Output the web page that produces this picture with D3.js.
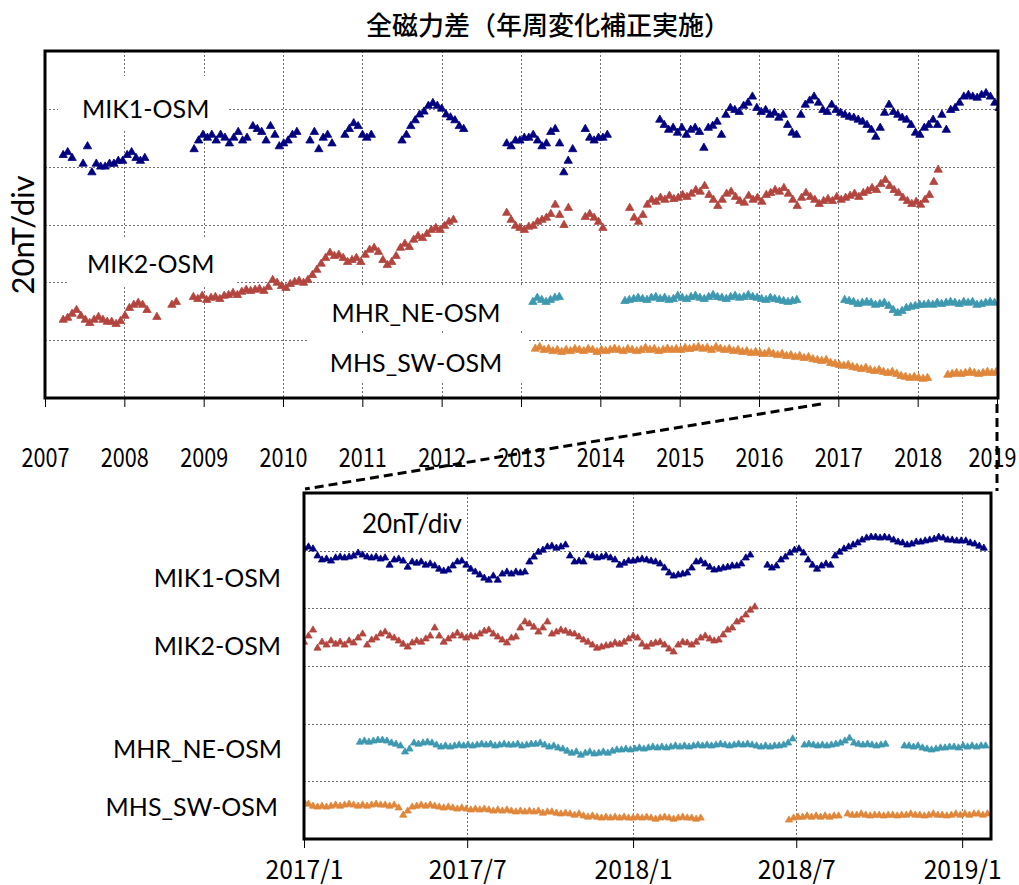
<!DOCTYPE html>
<html>
<head>
<meta charset="utf-8">
<script src="https://cdn.jsdelivr.net/npm/d3@7"></script>
<style>
   body { margin: 0; background: #fff; }
   svg { display: block; }
</style>
</head>
<body>
<svg id="chart" width="1019" height="885"></svg>
<script>
/*jslint browser: true*/
/*global d3*/

// top panel: [start year, values (nT)], one value every 1/18 year
var mik1Top = [
   [2007.23, [84, 85, 83]],
   [2007.48, [81, 87, 78, 81, 80, 80, 81, 81, 82, 82, 84, 85, 83, 82, 83]],
   [2008.88, [86, 89, 91, 90, 91, 89, 91, 90, 88, 90, 92, 89, 90]],
   [2009.62, [94, 93, 92, 89, 94, 91, 87, 88, 89, 91, 92]],
   [2010.34, [89, 92, 86, 90, 91, 88]],
   [2010.78, [91, 93, 95, 94, 91, 90, 91]],
   [2011.50, [89, 91, 94, 96, 98, 99, 101, 102, 101, 100, 98, 97, 96, 94, 93]],
   [2012.82, [88, 87, 89, 89, 90, 90, 91, 89, 87, 88, 92, 93, 88]],
   [2013.54, [78, 82, 86]],
   [2013.81, [93, 90, 89, 90, 90, 91]],
   [2014.75, [96.2, 94.4, 92.7, 93.4, 91.7, 93.4, 91.0, 92.7, 93.4, 92.0, 86.5, 93.4, 94.1, 95.5, 91.0, 97.9,
      100.3, 99.6, 98.9, 101.0, 102.1, 104.2, 100.3, 98.9, 99.6, 97.9, 98.6, 96.9, 97.9, 94.4, 91.7, 91.0,
      97.9, 101.4, 102.8, 104.2, 102.1, 99.6, 98.9, 101.4, 99.6, 98.6, 97.9, 97.2, 96.9, 96.2, 95.5, 94.4,
      92.7, 90.3, 93.4, 98.6, 101.4, 98.9, 97.9, 96.9, 96.2, 94.4, 91.7, 91.0, 93.4, 94.4, 96.2, 94.4,
      97.9, 92.7, 99.6, 100.3, 102.1, 104.2, 104.8, 104.2, 103.8, 104.8, 105.4, 104.2, 102.1, 100.3]]
];

var mik2Top = [
   [2007.23, [27.0, 27.7, 29.1, 30.4, 28.4, 27.0, 25.9, 27.0, 28.0, 27.0, 26.3, 26.3, 25.6, 26.6, 28.4, 31.1,
      32.2, 32.9, 32.2, 30.4]],
   [2008.41, [28.0]],
   [2008.60, [32.2, 33.2]],
   [2008.87, [34.9, 34.2, 35.3, 33.9, 34.6, 34.9, 34.2, 35.3, 35.6, 36.3, 35.6, 36.7, 37.4, 37.0, 37.4, 37.7,
      37.0, 38.4, 40.8, 39.8, 38.7, 38.0, 39.4, 40.1, 40.5, 39.8, 40.8, 42.5, 44.3, 46.4, 48.4, 50.2,
      49.1, 49.5, 48.4, 47.0, 47.7, 48.4, 47.0, 49.5, 51.2, 51.9, 50.5, 47.7, 46.0, 47.0, 49.1, 51.9,
      53.3, 52.2, 54.7, 56.0, 55.3, 56.7, 58.1, 58.8, 58.1, 59.5, 60.9, 61.6]],
   [2012.82, [64.0, 61.6, 59.5, 58.8, 58.1, 59.2, 59.5, 60.9, 61.6, 62.3, 63.6, 66.8, 63.3, 59.8, 65.7]],
   [2013.81, [62.6, 63.6, 62.3, 60.9, 58.8]],
   [2014.37, [65.7, 62.3, 60.9, 63.3, 66.8, 68.5, 67.8, 69.2, 68.5, 69.9, 68.8, 69.2, 70.2, 69.5, 70.6, 71.9,
      71.3, 73.3, 70.2, 68.5, 66.4, 68.5, 70.6, 71.3, 69.5, 68.1, 67.5, 69.9, 68.5, 69.2, 67.8, 70.2,
      70.9, 71.9, 71.3, 72.6, 70.6, 68.5, 66.4, 69.2, 70.9, 69.5, 68.5, 67.1, 68.1, 68.8, 68.1, 69.5,
      68.5, 69.2, 69.9, 70.6, 69.5, 70.9, 71.6, 72.6, 71.9, 74.0, 75.4, 73.3, 71.9, 70.9, 69.2, 68.1,
      67.1, 67.8, 66.8, 68.5, 70.2, 74.7, 78.9]]
];

var mhrTop = [
   [2013.15, [33.2, 34.6, 33.9, 33.2, 33.9, 34.6, 34.9]],
   [2014.31, [33.5, 33.9, 34.2, 34.6, 34.2, 33.9, 34.6, 34.9, 34.2, 34.6, 33.9, 34.2, 35.3, 34.6, 34.2, 34.9,
      35.3, 34.6, 34.2, 34.9, 35.6, 34.9, 34.6, 34.2, 34.9, 35.3, 34.6, 34.9, 35.6, 34.9, 34.6, 34.2,
      33.9, 34.6, 34.2, 33.9, 33.5, 33.2, 33.5, 33.9]],
   [2017.08, [33.9, 33.5, 33.2, 32.5, 32.9, 33.2, 32.9, 32.2, 32.5, 32.9, 31.8, 30.4, 29.4, 30.1, 31.1, 31.5,
      31.8, 32.2, 32.2, 32.5, 32.2, 32.9, 32.5, 32.9, 33.2, 32.9, 32.5, 33.2, 32.9, 33.2, 32.2, 32.5,
      32.9, 33.2, 32.9]]
];

var mhsTop = [
   [2013.18, [17.0, 17.6, 16.6, 16.9, 16.2, 16.6, 15.9, 16.6, 16.2, 16.9, 16.6, 16.2, 16.9, 16.6, 15.9, 16.6,
      16.2, 16.6, 17.0, 16.6, 16.2, 16.9, 16.6, 16.2, 16.6, 17.3, 16.6, 16.9, 16.2, 16.6, 17.0, 16.6,
      16.9, 16.6, 17.3, 16.9, 17.3, 17.6, 17.0, 17.3, 16.6, 17.6, 17.0, 16.6, 16.9, 16.2, 16.6, 15.9,
      16.2, 15.5, 15.9, 15.5, 15.2, 15.9, 15.2, 14.8, 15.2, 14.5, 14.8, 14.1, 14.5, 13.8, 14.1, 13.4,
      13.1, 12.8, 13.1, 12.1, 11.8, 11.4, 11.1, 11.4, 10.7, 10.4, 10.0, 10.4, 9.7, 9.3, 9.7, 9.0,
      8.6, 9.0, 8.3, 7.6, 7.3, 6.9, 7.3, 6.9, 6.6, 6.9]],
   [2018.38, [8.0, 8.3, 8.6, 8.3, 8.6, 9.0, 8.6, 8.3, 8.6, 9.0, 8.6, 9.0]]
];

// bottom panel: [start date, values (nT)], one value every 5 days
var mik1Bottom = [
   ["2017-01-01", [100.9, 101.3, 100.6, 98.2, 96.8, 97.1, 96.4, 97.5, 97.8, 97.5,
      97.8, 98.2, 99.2, 98.5, 97.8, 97.5, 97.8, 97.1, 97.5, 95.0,
      96.8, 97.1, 96.4, 94.3, 96.1, 95.7, 96.1, 95.0, 95.4, 94.7,
      93.6, 92.9, 93.3, 94.7, 96.1, 96.4, 95.0, 93.6, 92.6, 91.6,
      90.5, 89.8, 91.2, 89.8, 91.9, 92.6, 91.9, 92.6, 92.3, 92.6,
      96.1, 97.8, 99.5, 100.2, 101.3, 101.6, 100.9, 101.3, 102.0, 98.2,
      96.1, 96.4, 96.1, 98.5, 98.2, 97.5, 97.8, 98.2, 97.5, 96.8,
      95.0, 95.7, 96.4, 96.4, 96.8, 97.1, 96.8, 96.4, 96.1, 95.4,
      94.0, 92.3, 91.2, 91.6, 91.9, 92.3, 94.0, 96.1, 96.4, 95.4,
      94.3, 93.3, 93.6, 94.0, 94.3, 94.7, 94.7, 95.4, 97.5, 98.5]],
   ["2018-05-30", [95.0, 94.0, 94.7, 96.8, 97.8, 99.2, 100.2, 100.6, 99.2, 96.8,
      95.0, 93.6, 94.7, 95.4, 95.0, 98.2, 99.5, 100.6, 101.3, 102.0,
      102.7, 103.7, 104.4, 104.7, 104.7, 104.4, 104.7, 104.4, 103.7, 103.0,
      102.7, 102.0, 102.3, 103.0, 103.0, 103.4, 103.7, 104.0, 104.7, 104.4,
      103.7, 103.7, 103.4, 103.4, 103.4, 102.7, 102.3, 101.6, 100.9]]
];

var mik2Bottom = [
   ["2017-01-01", [68.3, 70.4, 72.5, 66.2, 68.3, 67.3, 68.7, 67.6, 68.3, 67.3,
      68.7, 68.0, 69.7, 71.1, 67.3, 69.0, 69.7, 71.1, 71.8, 70.4,
      69.7, 68.7, 67.6, 66.6, 68.0, 68.7, 68.3, 69.4, 70.4, 73.2,
      70.4, 68.3, 69.4, 70.4, 71.4, 70.4, 69.7, 70.4, 70.1, 71.1,
      72.1, 72.5, 71.1, 70.1, 69.0, 68.0, 69.7, 70.1, 73.2, 75.3,
      74.6, 73.5, 71.8, 73.2, 75.3, 71.1, 71.8, 72.5, 72.1, 71.4,
      71.1, 70.1, 69.0, 68.3, 67.3, 66.2, 66.6, 67.0, 67.3, 68.0,
      67.6, 68.3, 69.4, 70.4, 69.7, 67.6, 66.6, 67.6, 68.0, 68.3,
      67.3, 65.9, 64.9, 67.3, 68.3, 68.0, 67.3, 68.3, 69.7, 70.4,
      69.4, 68.7, 69.0, 70.8, 72.5, 73.2, 75.3, 76.0, 77.7, 79.4, 80.5]]
];

var mhrBottom = [
   ["2017-03-04", [33.6, 34.0, 33.6, 34.0, 34.3, 34.3, 34.0, 33.3, 32.9, 32.3,
      30.2, 31.2, 33.3, 32.9, 33.3, 33.6, 33.3, 32.6, 31.9, 32.3,
      31.9, 32.3, 32.6, 32.3, 32.6, 32.3, 32.6, 32.9, 32.6, 32.9,
      32.3, 32.6, 32.9, 32.6, 32.6, 32.9, 32.3, 32.6, 32.9, 32.9,
      33.3, 32.6, 31.9, 32.3, 31.6, 31.2, 30.5, 29.8, 30.2, 29.1,
      29.8, 30.2, 29.5, 29.8, 30.2, 29.8, 30.5, 30.9, 30.9, 31.2,
      30.9, 31.2, 31.6, 31.2, 31.6, 31.9, 31.6, 31.9, 31.6, 31.9,
      32.3, 31.9, 32.3, 31.9, 32.3, 32.6, 32.3, 32.6, 32.3, 32.6,
      32.9, 32.6, 32.3, 32.6, 32.9, 32.6, 32.9, 32.6, 32.3, 31.9,
      32.3, 31.9, 32.3, 32.3, 32.6, 33.3, 34.7]],
   ["2018-07-10", [32.6, 32.9, 32.6, 32.3, 32.6, 32.3, 32.6, 32.9, 33.3, 34.0,
      35.0, 33.3, 32.9, 32.6, 32.9, 32.6, 32.3, 32.6, 32.9]],
   ["2018-10-29", [32.3, 32.3, 31.9, 32.3, 31.6, 31.2, 30.9, 31.2, 31.6, 31.6,
      31.9, 31.9, 31.6, 32.3, 31.9, 32.3, 31.9, 32.3, 32.3]]
];

var mhsBottom = [
   ["2017-01-01", [12.8, 12.1, 11.4, 11.1, 11.4, 11.1, 11.4, 11.8, 11.4, 11.8,
      12.1, 11.8, 11.4, 11.8, 11.4, 11.8, 12.1, 11.8, 11.8, 11.4,
      11.8, 10.8, 8.3, 9.7, 11.1, 11.4, 11.8, 11.4, 11.8, 11.4,
      11.1, 10.8, 11.1, 10.8, 10.4, 10.8, 10.4, 10.1, 10.4, 10.1,
      10.4, 10.1, 9.7, 10.1, 9.7, 10.1, 9.7, 9.4, 9.7, 9.4,
      9.7, 9.4, 9.7, 9.0, 9.4, 9.4, 9.0, 8.7, 9.0, 8.7,
      8.3, 8.7, 8.0, 7.6, 8.0, 7.6, 7.3, 7.6, 7.3, 7.6,
      7.3, 7.6, 7.3, 7.3, 7.6, 7.3, 7.6, 7.3, 6.9, 7.3,
      7.6, 7.3, 6.9, 7.3, 7.6, 7.3, 7.3, 6.9, 7.3]],
   ["2018-06-23", [6.6, 7.3, 7.6, 7.6, 8.0, 7.6, 8.0, 7.6, 8.0, 7.6, 8.0, 8.0]],
   ["2018-08-27", [8.7, 8.3, 8.3, 8.7, 8.3, 8.0, 8.3, 8.3, 8.0, 8.3, 8.3, 8.0, 8.3, 8.3, 8.7, 8.3,
      8.3, 8.0, 8.3, 8.7, 8.3, 8.3, 8.0, 8.3, 8.7, 8.3, 8.7, 8.3, 8.7, 8.7, 8.3, 8.7]]
];

var seriesNames = ["MIK1-OSM", "MIK2-OSM", "MHR_NE-OSM", "MHS_SW-OSM"];
var seriesColors = ["#000080", "#b3453f", "#3e98b0", "#e0873b"];
var topYears = d3.range(2007, 2020);
var bottomTicks = ["2017-01-01", "2017-07-01", "2018-01-01", "2018-07-01", "2019-01-01"];
var gridValues = [20, 40, 60, 80, 100];

(function () {
   "use strict";

   var TOP_STEP = 1 / 18,
      BOTTOM_STEP = 5,
      parse = d3.utcParse("%Y-%m-%d"),
      svg = d3.select("#chart"),
      labelFont = "Lato, 'Open Sans', sans-serif",
      tickFont = "'Noto Sans CJK JP', sans-serif",
      xTop = d3.scaleLinear().domain([2007, 2019]).range([45, 997]),
      yTop = d3.scaleLinear().domain([0, 120]).range([398, 51]),
      xBot = d3.scaleUtc().domain([parse("2017-01-01"), parse("2019-02-02")]).range([304, 991]),
      yBot = d3.scaleLinear().domain([0, 120]).range([839, 493]),
      topBox = {x0: 45, x1: 998, y0: 51, y1: 398},
      botBox = {x0: 304, x1: 991, y0: 493, y1: 839};

   function topPoints(segments) {
      var out = [];
      segments.forEach(function (s) {
         s[1].forEach(function (v, i) {
            out.push({t: s[0] + i * TOP_STEP, v: v});
         });
      });
      return out;
   }

   function bottomPoints(segments) {
      var out = [];
      segments.forEach(function (s) {
         var d0 = parse(s[0]);
         s[1].forEach(function (v, i) {
            out.push({t: d3.utcDay.offset(d0, i * BOTTOM_STEP), v: v});
         });
      });
      return out;
   }

   function grid(box, xs, ys, xVals) {
      var g = svg.append("g")
         .attr("stroke", "#6e6e6e")
         .attr("stroke-width", 1)
         .attr("stroke-dasharray", "2,2")
         .attr("shape-rendering", "crispEdges");
      g.selectAll("line.h").data(gridValues).join("line")
         .attr("x1", box.x0).attr("x2", box.x1)
         .attr("y1", function (d) { return Math.round(ys(d)) + 0.5; })
         .attr("y2", function (d) { return Math.round(ys(d)) + 0.5; });
      g.selectAll("line.v").data(xVals).join("line")
         .attr("x1", function (d) { return Math.round(xs(d)) + 0.5; })
         .attr("x2", function (d) { return Math.round(xs(d)) + 0.5; })
         .attr("y1", box.y0).attr("y2", box.y1);
   }

   function clip(id, box) {
      svg.append("clipPath").attr("id", id).append("rect")
         .attr("x", box.x0).attr("y", box.y0)
         .attr("width", box.x1 - box.x0).attr("height", box.y1 - box.y0);
   }

   function marks(points, xs, ys, color, size, clipId) {
      var tri = d3.symbol().type(d3.symbolTriangle).size(size)();
      svg.append("g").attr("clip-path", "url(#" + clipId + ")")
         .selectAll("path").data(points).join("path")
         .attr("d", tri)
         .attr("fill", color)
         .attr("stroke", color)
         .attr("stroke-width", 0.8)
         .attr("transform", function (d) {
            return "translate(" + xs(d.t).toFixed(1) + "," + ys(d.v).toFixed(1) + ")";
         });
   }

   function whiteBox(x, y, w, h) {
      svg.append("rect").attr("x", x).attr("y", y).attr("width", w).attr("height", h).attr("fill", "#fff");
   }

   function label(text, x, y, anchor, size) {
      svg.append("text")
         .attr("x", x).attr("y", y)
         .attr("text-anchor", anchor)
         .attr("dominant-baseline", "central")
         .attr("font-family", labelFont)
         .attr("font-size", size)
         .attr("fill", "#000")
         .text(text);
   }

   function frame(box) {
      svg.append("rect")
         .attr("x", box.x0).attr("y", box.y0)
         .attr("width", box.x1 - box.x0).attr("height", box.y1 - box.y0)
         .attr("fill", "none").attr("stroke", "#000").attr("stroke-width", 3);
   }

   // tick labels are a narrow gothic, about 12-13px per character
   function axis(axisGen, y, labelY, perChar) {
      var g = svg.append("g").attr("transform", "translate(0," + y + ")").call(axisGen);
      g.select(".domain").remove();
      g.selectAll(".tick line").attr("stroke", "#000");
      g.selectAll(".tick text")
         .attr("y", labelY)
         .attr("dy", null)
         .attr("dominant-baseline", "central")
         .attr("font-family", tickFont)
         .attr("font-size", 26)
         .attr("fill", "#000")
         .attr("lengthAdjust", "spacingAndGlyphs")
         .attr("textLength", function () { return this.textContent.length * perChar; });
      return g;
   }

   // title
   svg.append("text")
      .attr("x", 548).attr("y", 23)
      .attr("text-anchor", "middle")
      .attr("dominant-baseline", "central")
      .attr("font-family", "'Noto Sans CJK JP', sans-serif")
      .attr("font-size", 26)
      .attr("font-weight", 500)
      .text("全磁力差（年周変化補正実施）");

   // top panel
   grid(topBox, xTop, yTop, topYears.slice(1));
   whiteBox(58, 76, 170, 54);
   whiteBox(67, 237, 168, 50);
   whiteBox(307, 285, 220, 45);
   whiteBox(307, 334, 220, 48);
   clip("clipTop", topBox);
   [mik1Top, mik2Top, mhrTop, mhsTop].forEach(function (s, i) {
      marks(topPoints(s), xTop, yTop, seriesColors[i], 30, "clipTop");
   });
   frame(topBox);
   label(seriesNames[0], 82, 108, "start", 25);
   label(seriesNames[1], 87, 263, "start", 25);
   label(seriesNames[2], 416, 312, "middle", 25);
   label(seriesNames[3], 416, 362, "middle", 25);

   svg.append("text")
      .attr("transform", "translate(22,235) rotate(-90)")
      .attr("text-anchor", "middle")
      .attr("dominant-baseline", "central")
      .attr("font-family", labelFont)
      .attr("font-size", 31)
      .text("20nT/div");

   // last year label ends just inside the page edge
   axis(d3.axisBottom(xTop).tickValues(topYears).tickSize(9).tickFormat(d3.format("d")), 398, 57, 12)
      .selectAll(".tick text")
      .filter(function (d) { return d === 2019; })
      .attr("text-anchor", "end")
      .attr("x", 19);

   // bottom panel
   grid(botBox, xBot, yBot, bottomTicks.slice(1).map(parse));
   clip("clipBot", botBox);
   [mik1Bottom, mik2Bottom, mhrBottom, mhsBottom].forEach(function (s, i) {
      marks(bottomPoints(s), xBot, yBot, seriesColors[i], 22, "clipBot");
   });
   frame(botBox);
   label("20nT/div", 362, 523, "start", 26);
   label(seriesNames[0], 281, 577, "end", 25);
   label(seriesNames[1], 281, 645, "end", 25);
   label(seriesNames[2], 282, 748, "end", 25);
   label(seriesNames[3], 278, 806, "end", 25);

   axis(d3.axisBottom(xBot).tickValues(bottomTicks.map(parse)).tickSize(9).tickFormat(d3.utcFormat("%Y/%-m")), 839, 28, 13);

   // zoom connectors
   svg.append("g")
      .attr("stroke", "#000").attr("stroke-width", 3).attr("stroke-dasharray", "9,5").attr("fill", "none")
      .call(function (g) {
         g.append("line")
            .attr("x1", xTop(2016.78)).attr("y1", 404)
            .attr("x2", botBox.x0 + 1).attr("y2", botBox.y0 - 4);
         g.append("line")
            .attr("x1", xTop(2019)).attr("y1", 404)
            .attr("x2", xTop(2019)).attr("y2", botBox.y0 - 2);
      });
}());
</script>
</body>
</html>
